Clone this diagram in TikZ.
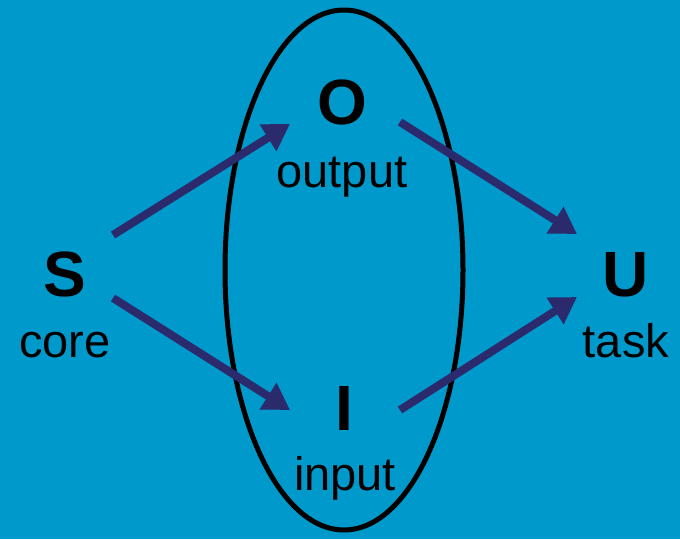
\documentclass[tikz,border=0pt]{standalone}
\usepackage{fontspec}
\setmainfont{Liberation Sans}
\usetikzlibrary{arrows.meta,shapes.geometric}
\definecolor{bgblue}{HTML}{0099CC}
\definecolor{navy}{HTML}{2B2A6C}
\tikzset{
  big/.style={font=\fontsize{64}{70}\selectfont\bfseries, anchor=base, inner sep=0pt},
  lab/.style={font=\fontsize{47}{52}\selectfont, anchor=base, inner sep=0pt},
  arr/.style={draw=navy, line width=8pt, -{Triangle[length=26pt,width=30pt]}},
}
\begin{document}
\begin{tikzpicture}[x=1pt,y=-1pt]
\fill[bgblue] (0,0) rectangle (680,539);
\useasboundingbox (0,0) rectangle (680,539);
\node[draw=black, line width=5pt, ellipse, minimum width=238pt, minimum height=520pt, inner sep=0pt] (ell) at (344,270) {};
\node[big] (S) at (65,296) {S};
\node[lab] (core) at (65,357) {core};
\node[big] (O) at (342,124) {O};
\node[lab] (output) at (342,187) {output};
\node[big] (I) at (344,430) {I};
\node[lab] (input) at (345,490) {input};
\node[big] (U) at (626,296) {U};
\node[lab] (task) at (626,357) {task};
\coordinate (s1) at (113,235);
\coordinate (s2) at (113,298);
\coordinate (o1) at (290,124);
\coordinate (i1) at (290,410);
\coordinate (o2) at (400,122);
\coordinate (i2) at (400,410);
\coordinate (u1) at (577,234);
\coordinate (u2) at (577,297);
\draw[arr] (s1) -- (o1);
\draw[arr] (s2) -- (i1);
\draw[arr] (o2) -- (u1);
\draw[arr] (i2) -- (u2);
\end{tikzpicture}
\end{document}
